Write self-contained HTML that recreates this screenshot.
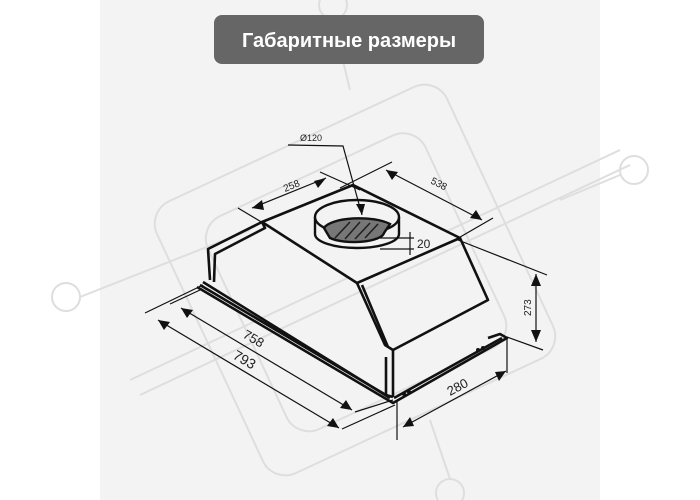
<!DOCTYPE html>
<html><head><meta charset="utf-8"><style>
html,body{margin:0;padding:0;background:#fff}
svg{display:block}
text{font-family:"Liberation Sans","DejaVu Sans",sans-serif}
</style></head><body>
<svg width="700" height="500" viewBox="0 0 700 500" xmlns="http://www.w3.org/2000/svg">
<rect x="100" y="0" width="500" height="500" fill="#f3f3f3"/>
<!-- watermark -->
<g stroke="#dedede" stroke-width="2" fill="none">
<circle cx="333" cy="5" r="14"/><circle cx="634" cy="170" r="14"/><circle cx="66" cy="297" r="14"/><circle cx="450" cy="493" r="14"/>
<line x1="80" y1="297" x2="250" y2="230"/><line x1="620" y1="175" x2="560" y2="200"/>
<line x1="333" y1="19" x2="350" y2="90"/>
<line x1="450" y1="479" x2="430" y2="420"/>
<rect x="195" y="130" width="320" height="300" rx="25" transform="rotate(-25 355 280)"/>
<rect x="235" y="165" width="240" height="235" rx="25" transform="rotate(-25 355 280)"/>
<line x1="130" y1="380" x2="620" y2="150"/>
<line x1="140" y1="395" x2="630" y2="165"/>
</g>
<!-- title -->
<rect x="214" y="15" width="270" height="49" rx="8" fill="#666"/>
<text x="349" y="47" font-size="20" font-weight="bold" fill="#fff" text-anchor="middle">Габаритные размеры</text>
<!-- hood -->
<g stroke="#111" stroke-width="2.6" fill="none" stroke-linejoin="round">
<polygon points="262,222 353,185 460,238 357,283" fill="#f3f3f3"/>
<polyline points="262,222 208,249 210,280"/>
<polyline points="262,222 265,228 215,254 214,282"/>
<polyline points="357,283 385,345 393,350 488,300 460,238"/>
<polyline points="362,285 388,347"/>
<polyline points="393,350 393,397"/>
<polyline points="386,357 386,395"/>
<polyline points="200,285 386,395 393,397"/>
<polyline points="197,287 393,403 507,338 500,334 488,338"/>
<polyline points="203,282 390,398"/>
<polyline points="394,398 502,338"/>
</g>
<g fill="#111"><circle cx="404" cy="394" r="2"/><circle cx="409" cy="392" r="2"/><circle cx="478" cy="350" r="2"/><circle cx="483" cy="348" r="2"/></g>
<!-- duct -->
<g stroke="#111" stroke-width="2.4" fill="#f3f3f3">
<path d="M315,217 L315,234 A42,14 0 0 0 399,234 L399,217"/>
<ellipse cx="357" cy="217" rx="42" ry="17"/>
<path d="M324,228 A36,12 0 0 1 390,224 L384,233 A30,10 0 0 1 330,238 Z" fill="#777"/>
</g>
<g stroke="#222" stroke-width="1.6"><line x1="335" y1="238" x2="350" y2="222"/><line x1="345" y1="239" x2="360" y2="222"/><line x1="355" y1="239" x2="370" y2="223"/><line x1="365" y1="238" x2="378" y2="224"/></g>
<!-- dims -->
<g stroke="#111" stroke-width="1.2" fill="none">
<line x1="238" y1="208" x2="268" y2="226"/><line x1="320" y1="172" x2="360" y2="190"/>
<line x1="252" y1="208" x2="326" y2="178"/>
<line x1="392" y1="162" x2="340" y2="188"/><line x1="493" y1="218" x2="455" y2="240"/>
<line x1="386" y1="170" x2="482" y2="220"/>
<line x1="458" y1="240" x2="547" y2="275"/><line x1="507" y1="337" x2="543" y2="350"/>
<line x1="536" y1="274" x2="536" y2="342"/>
<line x1="145" y1="313" x2="203" y2="285"/><line x1="170" y1="304" x2="200" y2="290"/>
<line x1="181" y1="308" x2="352" y2="410"/><line x1="158" y1="320" x2="339" y2="428"/>
<line x1="355" y1="412" x2="393" y2="400"/><line x1="342" y1="429" x2="395" y2="405"/>
<line x1="397" y1="400" x2="397" y2="440"/><line x1="507" y1="338" x2="507" y2="373"/>
<line x1="403" y1="427" x2="506" y2="371"/>
<polyline points="288,145 343,146 362,215"/>
<line x1="380" y1="238" x2="414" y2="238"/><line x1="380" y1="249" x2="414" y2="249"/>
<line x1="410" y1="232" x2="410" y2="255"/>
</g>
<g fill="#111">
<polygon points="252,208 262,200 264,210"/><polygon points="326,178 314,181 318,188"/>
<polygon points="386,170 398,172 392,180"/><polygon points="482,220 470,218 476,210"/>
<polygon points="536,274 531,286 541,286"/><polygon points="536,342 531,330 541,330"/>
<polygon points="181,308 193,310 187,318"/><polygon points="352,410 340,408 346,400"/>
<polygon points="158,320 170,322 164,330"/><polygon points="339,428 327,426 333,418"/>
<polygon points="403,427 410,417 414,426"/><polygon points="506,371 499,381 495,372"/>
<polygon points="362,215 356,204 365,204"/>
</g>
<g fill="#222">
<text x="285" y="192" font-size="10" transform="rotate(-22 285 192)">258</text>
<text x="430" y="183" font-size="10" transform="rotate(27 430 183)">538</text>
<text x="531" y="316" font-size="10" transform="rotate(-90 531 316)">273</text>
<text x="242" y="337" font-size="13" transform="rotate(30 242 337)">758</text>
<text x="232" y="358" font-size="14" transform="rotate(30 232 358)">793</text>
<text x="450" y="396" font-size="13" transform="rotate(-28 450 396)">280</text>
<text x="300" y="141" font-size="9">Ø120</text>
<text x="417" y="248" font-size="12">20</text>
</g>
</svg>
</body></html>
